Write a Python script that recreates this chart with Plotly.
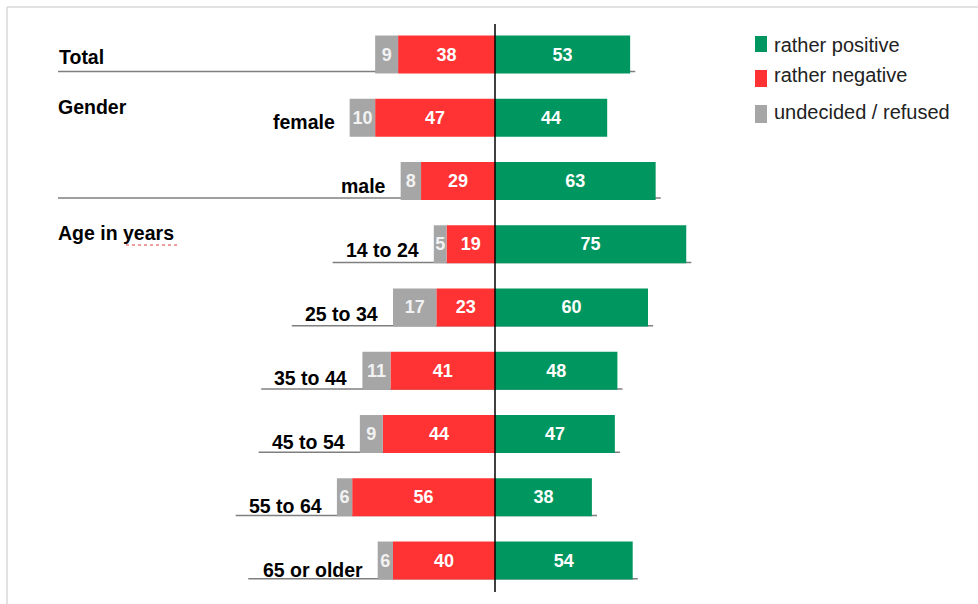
import plotly.graph_objects as go

# ---------------- data ----------------
categories = ["Total", "female", "male", "14 to 24", "25 to 34",
              "35 to 44", "45 to 54", "55 to 64", "65 or older"]
positive = [53, 44, 63, 75, 60, 48, 47, 38, 54]
negative = [38, 47, 29, 19, 23, 41, 44, 56, 40]
undecided = [9, 10, 8, 5, 17, 11, 9, 6, 6]
series_names = ["rather positive", "rather negative", "undecided / refused"]
group_headings = [("Gender", "female"), ("Age in years", "14 to 24")]
left_labels = ["Total"]

# ---------------- styles / layout ----------------
W, H = 978, 604
CENTER_PX = 495.0
SCALE = 2.55          # px per percentage point
ROW0_PX = 54.5
ROW_STEP = 63.25
GREEN = "#00965F"
RED = "#FF3333"
GRAY = "#A6A6A6"
FONT = "Arial, Liberation Sans, sans-serif"
underline_style = ["full", "none", "full", "label", "label", "label", "label", "label", "label"]

def px_x(p):
    return p / W

def px_y(p):
    return 1 - p / H

fig = go.Figure()

fig.add_trace(go.Bar(
    y=categories, x=[-v for v in negative], orientation="h", name=series_names[1],
    marker=dict(color=RED, line=dict(width=0)), width=0.6,
    text=[str(v) for v in negative], textposition="inside", insidetextanchor="middle",
    textangle=0, constraintext="none",
    textfont=dict(family=FONT, size=18, color="white", weight="bold"),
    showlegend=False, hoverinfo="skip"))
fig.add_trace(go.Bar(
    y=categories, x=[-v for v in undecided], orientation="h", name=series_names[2],
    marker=dict(color=GRAY, line=dict(width=0)), width=0.6,
    text=[str(v) for v in undecided], textposition="inside", insidetextanchor="middle",
    textangle=0, constraintext="none",
    textfont=dict(family=FONT, size=18, color="#F2F2F2", weight="bold"),
    showlegend=False, hoverinfo="skip"))
fig.add_trace(go.Bar(
    y=categories, x=positive, orientation="h", name=series_names[0],
    marker=dict(color=GREEN, line=dict(width=0)), width=0.6,
    text=[str(v) for v in positive], textposition="inside", insidetextanchor="middle",
    textangle=0, constraintext="none",
    textfont=dict(family=FONT, size=18, color="white", weight="bold"),
    showlegend=False, hoverinfo="skip"))

shapes = []
annotations = []

# row labels and underlines
for i, cat in enumerate(categories):
    left_end = -(negative[i] + undecided[i])
    if cat in left_labels:
        annotations.append(dict(x=px_x(57), xref="paper", y=cat, yref="y",
                                text=cat, showarrow=False, xanchor="left",
                                yshift=-2,
                                font=dict(family=FONT, size=19.5, color="black", weight="bold")))
    else:
        annotations.append(dict(x=left_end, xref="x", y=cat, yref="y",
                                text=cat, showarrow=False, xanchor="right",
                                xshift=-13, yshift=-(3 + 0.8 * i),
                                font=dict(family=FONT, size=19.5, color="black", weight="bold")))
    style = underline_style[i]
    if style == "none":
        continue
    x1 = positive[i] + 2
    if style == "full":
        shapes.append(dict(type="line", layer="below", xref="paper", yref="y",
                           x0=px_x(58), x1=(CENTER_PX + x1 * SCALE) / W,
                           y0=i + 0.27, y1=i + 0.27,
                           line=dict(color="#7F7F7F", width=1.5)))
    else:
        label_w = 9.4 * len(cat)
        x0 = left_end - (14 + label_w + 12) / SCALE
        shapes.append(dict(type="line", layer="below", xref="x", yref="y",
                           x0=x0, x1=x1, y0=i + 0.29, y1=i + 0.29,
                           line=dict(color="#7F7F7F", width=1.5)))

# group headings
for text, cat in group_headings:
    annotations.append(dict(x=px_x(56), xref="paper", y=cat, yref="y",
                            text=text, showarrow=False, xanchor="left",
                            yshift=11,
                            font=dict(family=FONT, size=19.5, color="black", weight="bold")))

# spell-check squiggle under "years"
shapes.append(dict(type="line", xref="paper", yref="paper",
                   x0=px_x(126), x1=px_x(177), y0=px_y(245), y1=px_y(245),
                   line=dict(color="#E04040", width=1.2, dash="dot")))

# zero line
shapes.append(dict(type="line", xref="x", yref="paper", x0=0, x1=0,
                   y0=px_y(24), y1=px_y(592), line=dict(color="black", width=1.5)))

# frame (top and left)
shapes.append(dict(type="line", xref="paper", yref="paper", x0=px_x(7), x1=1,
                   y0=px_y(7), y1=px_y(7), line=dict(color="#D9D9D9", width=1.5)))
shapes.append(dict(type="line", xref="paper", yref="paper", x0=px_x(7), x1=px_x(7),
                   y0=px_y(7), y1=0, line=dict(color="#D9D9D9", width=1.5)))

# legend (manual)
legend_colors = [GREEN, RED, GRAY]
legend_boxes = [(36, 52), (70, 87), (105, 123)]
legend_text_y = [45, 75, 112]
for name, col, (t, b), ty in zip(series_names, legend_colors, legend_boxes, legend_text_y):
    shapes.append(dict(type="rect", xref="paper", yref="paper",
                       x0=px_x(755), x1=px_x(767), y0=px_y(b), y1=px_y(t),
                       fillcolor=col, line=dict(width=0)))
    annotations.append(dict(x=px_x(772), xref="paper", y=px_y(ty), yref="paper",
                            text=name, showarrow=False, xanchor="left", yanchor="middle",
                            font=dict(family=FONT, size=20, color="#222222")))

fig.update_layout(
    width=W, height=H, autosize=False,
    margin=dict(l=0, r=0, t=0, b=0, pad=0),
    paper_bgcolor="white", plot_bgcolor="white",
    barmode="relative", bargap=0.4,
    xaxis=dict(range=[-CENTER_PX / SCALE, (W - CENTER_PX) / SCALE],
               visible=False, fixedrange=True),
    yaxis=dict(type="category", categoryorder="array", categoryarray=categories,
               range=[(H - ROW0_PX) / ROW_STEP, -ROW0_PX / ROW_STEP],
               visible=False, fixedrange=True),
    shapes=shapes, annotations=annotations,
    showlegend=False,
)

fig.write_html("out.html", config={"displayModeBar": False},
               post_script="document.body.style.margin='0px';document.body.style.overflow='hidden';")
